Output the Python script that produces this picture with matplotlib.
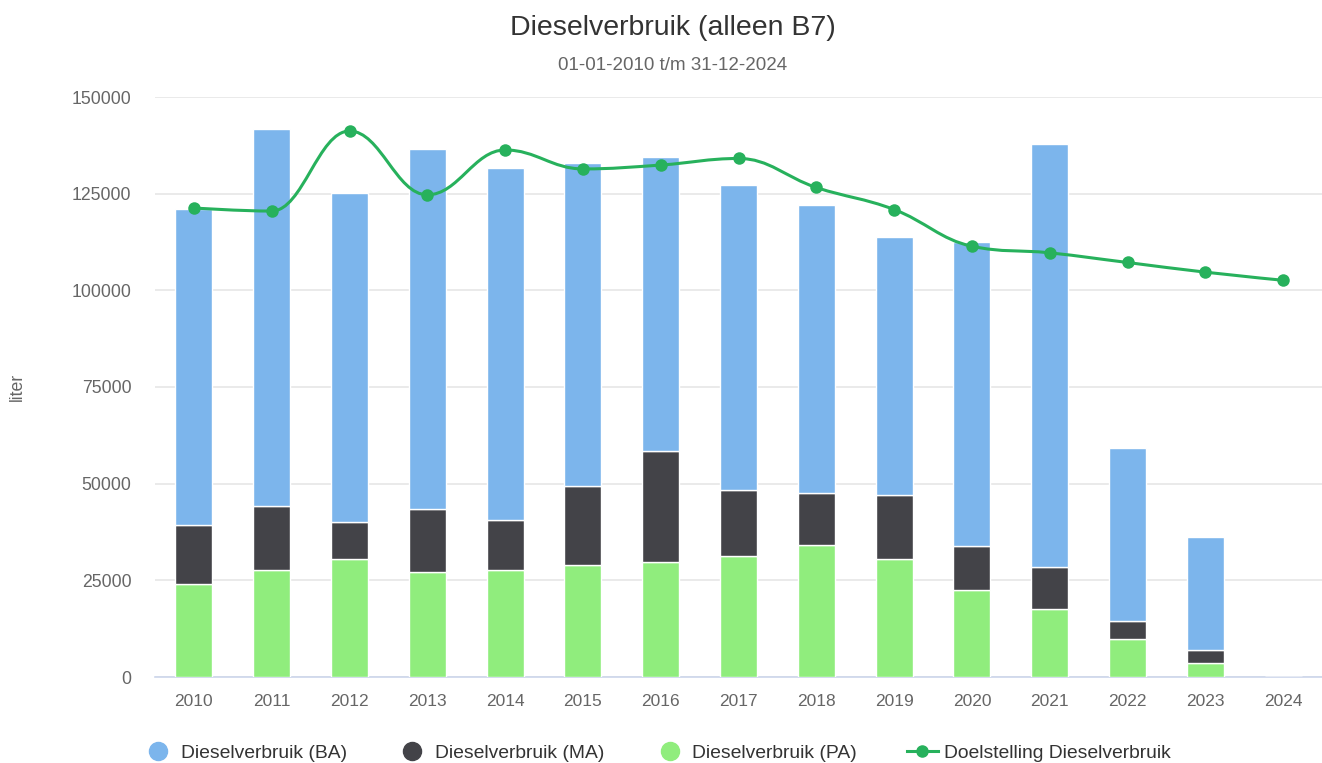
import numpy as np
import matplotlib
matplotlib.use("Agg")
import matplotlib.pyplot as plt
from matplotlib.path import Path
from matplotlib.patches import PathPatch
from matplotlib.lines import Line2D

plt.rcParams['font.family'] = ['Liberation Sans', 'DejaVu Sans']

years = ['2010', '2011', '2012', '2013', '2014', '2015', '2016', '2017',
         '2018', '2019', '2020', '2021', '2022', '2023', '2024']
diesel_pa = [24000, 27700, 30600, 27200, 27700, 28900, 29700, 31400,
             34200, 30500, 22600, 17700, 9700, 3500, 0]
diesel_ma = [15300, 16600, 9600, 16200, 12900, 20400, 28700, 17000,
             13400, 16600, 11300, 10800, 4700, 3500, 0]
diesel_ba = [81700, 97400, 85000, 93100, 91000, 83600, 76100, 78800,
             74500, 66700, 78600, 109300, 44800, 29200, 0]
doelstelling = [121300, 120500, 141200, 124700, 136300, 131400, 132400, 134100,
                126600, 120900, 111400, 109700, 107200, 104700, 102600]
yticks = [0, 25000, 50000, 75000, 100000, 125000, 150000]

C_BA = '#7cb5ec'
C_MA = '#434348'
C_PA = '#90ed7d'
C_LINE = '#27b15c'

W, H = 1322, 763
fig = plt.figure(figsize=(W / 100, H / 100), dpi=100)
ax = fig.add_axes([155 / W, 1 - 677 / H, (1322 - 155) / W, (677 - 97) / H])

x = np.arange(len(years))
bw = 0.475
pa = np.array(diesel_pa, float)
ma = np.array(diesel_ma, float)
ba = np.array(diesel_ba, float)
kw = dict(width=bw, edgecolor='white', linewidth=1, zorder=3)
ax.bar(x, pa, color=C_PA, **kw)
ax.bar(x, ma, bottom=pa, color=C_MA, **kw)
ax.bar(x, ba, bottom=pa + ma, color=C_BA, **kw)

# Highcharts-style spline through the target points
def spline_path(xs, ys, smoothing=1.5):
    denom = smoothing + 1
    n = len(xs)
    verts = [(xs[0], ys[0])]
    codes = [Path.MOVETO]
    rc = [None] * n
    lc = [None] * n
    for i in range(1, n - 1):
        px, py = xs[i - 1], ys[i - 1]
        nx, ny = xs[i + 1], ys[i + 1]
        cx, cy = xs[i], ys[i]
        lcx = (smoothing * cx + px) / denom
        lcy = (smoothing * cy + py) / denom
        rcx = (smoothing * cx + nx) / denom
        rcy = (smoothing * cy + ny) / denom
        if rcx != lcx:
            corr = ((rcy - lcy) * (rcx - cx)) / (rcx - lcx) + cy - rcy
            lcy += corr
            rcy += corr
        if lcy > py and lcy > cy:
            lcy = max(py, cy)
            rcy = 2 * cy - lcy
        elif lcy < py and lcy < cy:
            lcy = min(py, cy)
            rcy = 2 * cy - lcy
        if rcy > ny and rcy > cy:
            rcy = max(ny, cy)
            lcy = 2 * cy - rcy
        elif rcy < ny and rcy < cy:
            rcy = min(ny, cy)
            lcy = 2 * cy - rcy
        lc[i] = (lcx, lcy)
        rc[i] = (rcx, rcy)
    for i in range(1, n):
        p0 = rc[i - 1] if rc[i - 1] is not None else (xs[i - 1], ys[i - 1])
        p1 = lc[i] if lc[i] is not None else (xs[i], ys[i])
        verts += [p0, p1, (xs[i], ys[i])]
        codes += [Path.CURVE4] * 3
    return Path(verts, codes)

d = np.array(doelstelling, float)
patch = PathPatch(spline_path(x.astype(float), d), facecolor='none',
                  edgecolor=C_LINE, linewidth=2.2, zorder=4, capstyle='round',
                  joinstyle='round')
ax.add_patch(patch)
ax.plot(x, d, 'o', color=C_LINE, markersize=9, zorder=5, markeredgewidth=0)

ax.set_xlim(-0.5, len(years) - 0.5)
ax.set_ylim(0, 150000)
ax.set_yticks(yticks)
ax.set_yticklabels([str(v) for v in yticks])
ax.set_xticks(x)
ax.set_xticklabels(years)
ax.grid(axis='y', color='#e6e6e6', linewidth=1.2, zorder=0)
ax.set_axisbelow(True)
for s in ['top', 'right', 'left']:
    ax.spines[s].set_visible(False)
ax.spines['bottom'].set_color('#ccd6eb')
ax.spines['bottom'].set_linewidth(1.2)
ax.tick_params(axis='y', length=0, pad=17, labelsize=12.7, labelcolor='#666666')
ax.tick_params(axis='x', length=0, pad=12, labelsize=12.5, labelcolor='#666666')
ax.set_ylabel('liter', fontsize=12.7, color='#666666')
ax.yaxis.set_label_coords(-(155 - 17) / (1322 - 155), 0.5)
ax.yaxis.label.set_horizontalalignment('center')
ax.yaxis.label.set_verticalalignment('center')

fig.text(673 / W, 1 - 28 / H, 'Dieselverbruik (alleen B7)', ha='center', va='center',
         fontsize=20.5, color='#333333')
fig.text(673 / W, 1 - 66 / H, '01-01-2010 t/m 31-12-2024', ha='center', va='center',
         fontsize=13.5, color='#666666')

handles = [
    Line2D([], [], marker='o', linestyle='none', markersize=13, color=C_BA),
    Line2D([], [], marker='o', linestyle='none', markersize=13, color=C_MA),
    Line2D([], [], marker='o', linestyle='none', markersize=13, color=C_PA),
    Line2D([], [], marker='o', linestyle='-', markersize=8, linewidth=2.2, color=C_LINE),
]
labels = ['Dieselverbruik (BA)', 'Dieselverbruik (MA)', 'Dieselverbruik (PA)',
          'Doelstelling Dieselverbruik']
leg = fig.legend(handles, labels, loc='center', bbox_to_anchor=(657 / W, 1 - 753 / H),
                 ncol=4, frameon=False, fontsize=13.9, handlelength=1.6,
                 handletextpad=0.35, columnspacing=2.6, labelcolor='#333333')

fig.savefig('out.png', dpi=100)
